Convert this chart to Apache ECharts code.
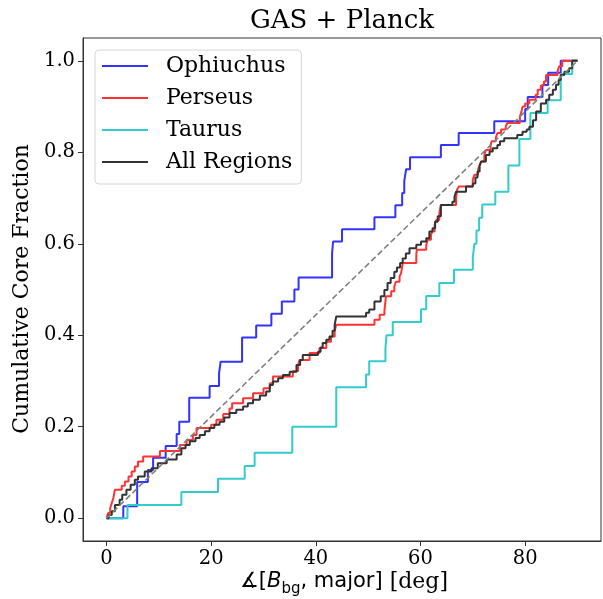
<!DOCTYPE html>
<html><head><meta charset="utf-8">
<script src="https://cdn.jsdelivr.net/npm/echarts@6/dist/echarts.min.js"></script>
<style>html,body{margin:0;padding:0;background:#fff}#c{width:603px;height:599px}</style>
</head><body><div id="c"></div>
<script>
const xTicks = [0, 20, 40, 60, 80];
const yTicks = [0, 0.2, 0.4, 0.6, 0.8, 1.0];
const seriesNames = ['Ophiuchus', 'Perseus', 'Taurus', 'All Regions'];

const ophAngle = [3.2,5.85,7.9,8.9,11.3,13.4,13.9,15.8,19.7,21.5,21.8,25.9,28.6,31.5,33.5,35.9,36.7,43.1,43.3,45.0,51.2,55.2,56.5,56.9,57.25,58.0,63.9,67.3,74.1,80.0,80.5,83.3,84.4,86.8];
const ophFrac  = [0.026,0.079,0.105,0.132,0.158,0.184,0.211,0.263,0.289,0.316,0.342,0.395,0.421,0.447,0.474,0.5,0.526,0.579,0.605,0.632,0.658,0.684,0.711,0.737,0.763,0.789,0.816,0.842,0.868,0.895,0.921,0.947,0.974,1.0];

const perAngle = [0.3,0.7,1.0,1.3,1.6,2.9,3.5,4.2,4.8,5.4,6.0,7.0,10.2,14.0,15.3,16.5,17.2,20.0,21.0,22.3,23.5,24.0,26.1,28.0,30.0,31.2,31.8,35.6,36.6,36.9,38.8,40.7,42.0,42.9,43.6,43.9,51.2,52.2,53.1,53.2,53.3,53.4,54.4,55.0,55.3,56.0,56.3,56.6,59.2,59.3,61.1,61.4,62.0,62.3,62.7,63.0,63.6,63.9,66.8,67.0,67.3,70.0,70.3,71.0,71.3,71.6,72.2,72.5,73.4,73.6,74.4,74.7,75.4,76.3,76.6,79.0,79.3,79.5,80.0,80.8,82.0,82.4,83.0,83.6,84.0,86.2,86.5,87.1];
const perFrac  = [.011,.022,.033,.044,.062,.071,.080,.091,.102,.113,.124,.135,.147,.160,.171,.182,.197,.204,.215,.228,.240,.251,.262,.273,.284,.295,.310,.321,.335,.346,.361,.372,.386,.397,.410,.423,.434,.445,.452,.463,.474,.485,.496,.507,.517,.528,.536,.558,.575,.587,.598,.609,.620,.627,.641,.652,.667,.685,.700,.718,.725,.740,.751,.762,.772,.780,.794,.805,.816,.824,.832,.842,.850,.857,.864,.878,.889,.900,.907,.915,.926,.937,.946,.955,.969,.978,.988,1.0];

const tauAngle = [4.0,14.3,21.3,26.4,28.3,35.5,43.9,49.6,50.2,53.3,53.5,54.7,60.1,61.1,63.6,66.4,70.0,70.3,70.7,71.2,71.8,74.3,76.8,78.9,81.0,84.3,86.8,89.0];
const tauFrac  = [0.029,0.057,0.086,0.114,0.143,0.2,0.286,0.314,0.343,0.371,0.4,0.429,0.457,0.486,0.514,0.543,0.571,0.6,0.629,0.657,0.686,0.714,0.771,0.829,0.886,0.914,0.971,1.0];

const allAngle = [0.4,1.0,1.6,2.5,3.0,3.8,4.6,5.4,6.0,7.3,8.6,9.8,11.5,13.4,14.3,15.1,15.9,17.0,17.8,18.8,19.7,20.6,21.6,22.5,23.5,24.8,26.1,27.0,28.0,29.3,30.5,31.2,31.8,32.8,33.7,35.0,36.3,37.0,37.5,40.4,40.9,41.3,42.0,42.6,43.2,43.6,43.9,49.6,50.2,51.2,52.4,53.1,53.7,54.3,55.0,55.5,56.1,56.6,57.2,57.9,59.2,60.1,61.1,61.7,62.3,62.8,63.3,63.9,66.1,66.5,66.8,68.7,70.0,70.5,70.9,71.3,71.6,72.5,73.2,73.8,74.7,75.2,76.0,78.5,79.5,80.3,80.8,81.5,82.1,83.0,84.0,84.6,85.3,85.9,86.4,86.8,87.5,88.4,89.0];
const allFrac  = [.007,.015,.029,.040,.051,.062,.073,.084,.091,.102,.109,.120,.128,.139,.153,.160,.168,.175,.182,.190,.197,.204,.211,.220,.230,.237,.244,.251,.259,.268,.277,.291,.299,.306,.313,.320,.335,.346,.357,.364,.373,.383,.390,.397,.410,.423,.441,.449,.456,.474,.485,.499,.514,.525,.539,.548,.558,.568,.579,.590,.598,.605,.612,.627,.634,.648,.660,.685,.692,.703,.714,.725,.732,.745,.758,.770,.780,.794,.802,.809,.816,.824,.831,.838,.845,.850,.856,.870,.889,.907,.915,.926,.937,.948,.958,.969,.976,.984,1.0];

const refLine = [[0, 0], [90, 1]];
const angleMax = 90;

function cdf(ang, frac) {
  const d = [[0, 0]];
  for (let i = 0; i < ang.length; i++) d.push([ang[i], frac[i]]);
  d.push([angleMax, 1]);
  return d;
}

const colors = ['#3333ff', '#ff3333', '#33cccc', '#333333'];
const serif = 'DejaVu Serif';
const chart = echarts.init(document.getElementById('c'), null, {renderer: 'canvas'});
const stepSeries = [[ophAngle, ophFrac], [perAngle, perFrac], [tauAngle, tauFrac], [allAngle, allFrac]].map((p, i) => ({
  name: seriesNames[i], type: 'line', step: 'end', data: cdf(p[0], p[1]),
  showSymbol: false, symbol: 'none', color: colors[i],
  lineStyle: {width: 2, color: colors[i]}, z: 2 + i, animation: false
}));

chart.setOption({
  animation: false,
  backgroundColor: '#fff',
  grid: {left: 83, right: 2, top: 38, bottom: 58, show: true, borderColor: '#333', borderWidth: 1, backgroundColor: 'transparent'},
  xAxis: {
    type: 'value', min: -4.5, max: 94.5, position: 'bottom',
    axisLine: {show: true, onZero: false, lineStyle: {color: '#333', width: 1}},
    axisTick: {show: true, length: 5, lineStyle: {color: '#333'}, customValues: xTicks},
    axisLabel: {show: true, customValues: xTicks, margin: 8, color: '#000', fontFamily: serif, fontSize: 19.5},
    splitLine: {show: false}
  },
  yAxis: {
    type: 'value', min: -0.05, max: 1.05,
    axisLine: {show: true, onZero: false, lineStyle: {color: '#333', width: 1}},
    axisTick: {show: true, length: 5, lineStyle: {color: '#333'}, customValues: yTicks},
    axisLabel: {show: true, customValues: yTicks, margin: 8, color: '#000', fontFamily: serif, fontSize: 19.5,
      formatter: v => v.toFixed(1)},
    splitLine: {show: false}
  },
  legend: {
    data: seriesNames, orient: 'vertical', left: 95, top: 50,
    icon: 'rect', itemWidth: 46, itemHeight: 2, itemGap: 8,
    padding: [4, 9, 10, 7],
    borderColor: '#d6d6d6', borderWidth: 1, borderRadius: 4, backgroundColor: 'rgba(255,255,255,0.8)',
    textStyle: {fontFamily: serif, fontSize: 22, color: '#000', lineHeight: 24, padding: [0, 0, 0, 13]}
  },
  graphic: [
    {type: 'text', x: 342, y: 21, style: {text: 'GAS + Planck', font: '26px "DejaVu Serif"', fill: '#000', textAlign: 'center', textVerticalAlign: 'middle'}},
    {type: 'text', x: 22, y: 289, rotation: Math.PI / 2, style: {text: 'Cumulative Core Fraction', font: '22px "DejaVu Serif"', fill: '#000', textAlign: 'center', textVerticalAlign: 'middle'}},
    {type: 'text', x: 344, y: 582, style: {
      text: '{a|∡[}{b|B}{c|bg}{a|, major]}{d| [deg]}', textAlign: 'center', textVerticalAlign: 'middle',
      rich: {
        a: {fontFamily: 'DejaVu Sans', fontSize: 21, lineHeight: 30, fill: '#000', verticalAlign: 'middle'},
        b: {fontFamily: 'DejaVu Sans', fontStyle: 'italic', fontSize: 21, lineHeight: 30, fill: '#000', verticalAlign: 'middle'},
        c: {fontFamily: 'DejaVu Sans', fontSize: 15, lineHeight: 15, fill: '#000', verticalAlign: 'bottom'},
        d: {fontFamily: serif, fontSize: 22, lineHeight: 30, fill: '#000', verticalAlign: 'middle'}
      }
    }}
  ],
  series: stepSeries.concat([{
    name: 'ref', type: 'line', data: refLine, showSymbol: false, symbol: 'none', z: 10,
    lineStyle: {width: 1.6, color: '#808080', type: [6, 3]}, animation: false
  }])
});
</script></body></html>
